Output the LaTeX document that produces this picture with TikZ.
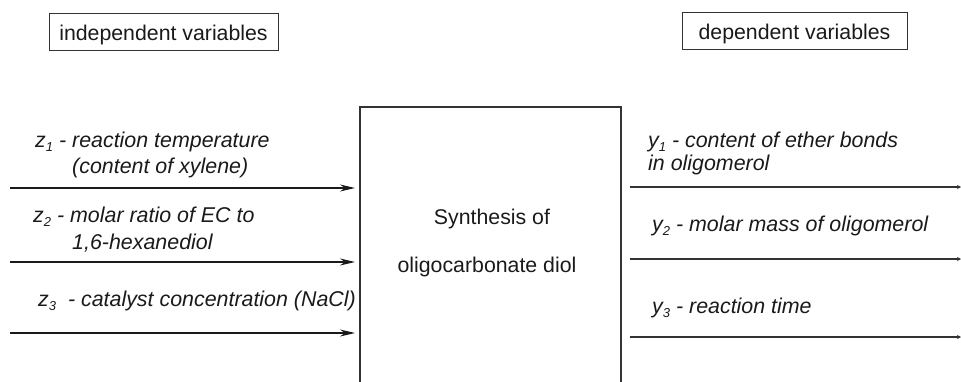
\documentclass[tikz,border=0pt]{standalone}
\usepackage{fontspec}
\setmainfont{Liberation Sans}
\usetikzlibrary{arrows.meta}
\newcommand{\lowidx}[1]{\raisebox{-0.38ex}{\fontsize{13}{13}\selectfont #1}}
\definecolor{ink}{HTML}{1A1A1A}
\definecolor{edge}{HTML}{333333}
\begin{document}
\begin{tikzpicture}[x=1pt,y=-1pt,
  lab/.style={font=\fontsize{21.4}{21.4}\selectfont\itshape, anchor=base west, inner sep=0pt, text=ink},
  ctr/.style={font=\fontsize{21.3}{21.3}\selectfont, anchor=base, inner sep=0pt, text=ink},
  headbox/.style={draw=edge, line width=1.3pt, font=\fontsize{21.3}{21.3}\selectfont, text=ink, inner sep=0pt},
  inarrow/.style={draw=ink, line width=1.4pt, -{Stealth[length=15pt,width=7pt]}, shorten >=4pt},
  outarrow/.style={draw=edge, line width=1.4pt, -{Stealth[length=4pt,width=4pt]}, shorten <=8pt}
]
\useasboundingbox (0,0) rectangle (961,381);
\clip (0,0) rectangle (961,381);

% header boxes
\node[headbox, minimum width=229pt, minimum height=37pt, anchor=north west] (ind) at (49,13) {};
\node[ctr] (indt) at (163.5,40) {independent variables};
\node[headbox, minimum width=225pt, minimum height=37pt, anchor=north west] (dep) at (682,12) {};
\node[ctr] (dept) at (794.5,39) {dependent variables};

% main block
\node[draw=edge, line width=1.6pt, minimum width=261pt, minimum height=330pt, anchor=north west, inner sep=0pt] (syn) at (359,106) {};
\node[ctr] (syn1) at (492,224) {Synthesis of};
\node[ctr] (syn2) at (487,272) {oligocarbonate diol};

% inputs
\node[lab] (z1a) at (35,147) {z\lowidx{1} - reaction temperature};
\node[lab] (z1b) at (72,173) {(content of xylene)};
\node[lab] (z2a) at (33,222) {z\lowidx{2} - molar ratio of EC to};
\node[lab] (z2b) at (72,249) {1,6-hexanediol};
\node[lab] (z3a) at (38,306) {z\lowidx{3}\ \ - catalyst concentration (NaCl)};

\coordinate (in1) at (10,188);
\coordinate (in2) at (10,262);
\coordinate (in3) at (10,333);
\draw[inarrow] (in1) -- (in1 -| syn.west);
\draw[inarrow] (in2) -- (in2 -| syn.west);
\draw[inarrow] (in3) -- (in3 -| syn.west);

% outputs
\node[lab] (y1a) at (648,147) {y\lowidx{1} - content of ether bonds};
\node[lab] (y1b) at (648,170) {in oligomerol};
\node[lab] (y2a) at (652,231) {y\lowidx{2} - molar mass of oligomerol};
\node[lab] (y3a) at (652,313) {y\lowidx{3} - reaction time};

\coordinate (out1) at (961,187);
\coordinate (out2) at (961,259);
\coordinate (out3) at (961,337);
\draw[outarrow] (out1 -| syn.east) -- (out1);
\draw[outarrow] (out2 -| syn.east) -- (out2);
\draw[outarrow] (out3 -| syn.east) -- (out3);
\end{tikzpicture}
\end{document}
